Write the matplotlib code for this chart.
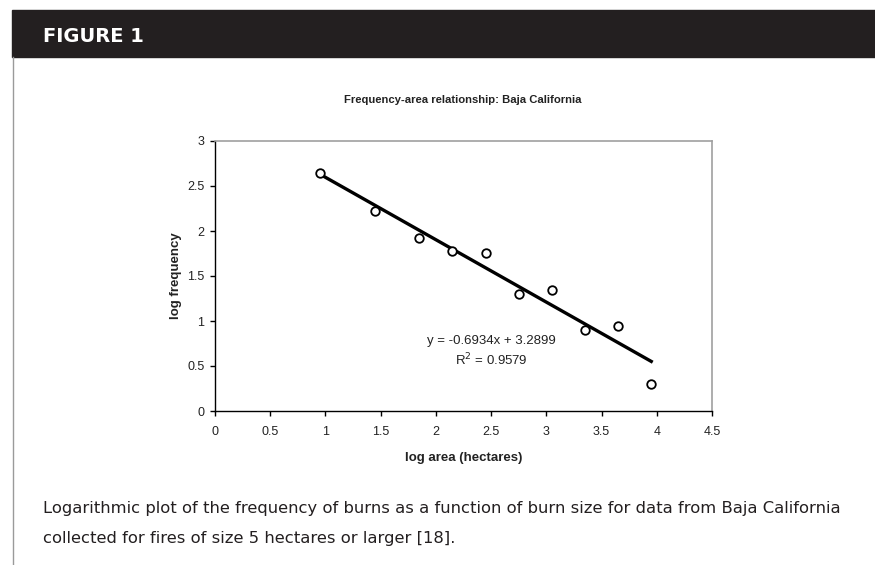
import numpy as np
import matplotlib
matplotlib.use("Agg")
import matplotlib.pyplot as plt
from matplotlib.patches import Rectangle
from matplotlib.lines import Line2D

# data
log_area = [0.95, 1.45, 1.85, 2.15, 2.45, 2.75, 3.05, 3.35, 3.65, 3.95]
log_freq = [2.64, 2.22, 1.92, 1.78, 1.76, 1.30, 1.34, 0.90, 0.95, 0.30]
slope, intercept = -0.6934, 3.2899
xticks = [0, 0.5, 1, 1.5, 2, 2.5, 3, 3.5, 4, 4.5]
yticks = [0, 0.5, 1, 1.5, 2, 2.5, 3]

W, H = 875, 565
arial = ["Liberation Sans", "DejaVu Sans"]

fig = plt.figure(figsize=(W/100, H/100), dpi=100)

def fx(px):
    return px / W

def fy(py):
    return 1 - py / H

# header bar and left rule
fig.add_artist(Rectangle((fx(12), fy(57)), 1, 47/H, transform=fig.transFigure,
                         color="#231f20", zorder=0))
fig.add_artist(Line2D([fx(12.5), fx(12.5)], [0, fy(57)], transform=fig.transFigure,
                      color="#9a9a9a", lw=1))
fig.text(fx(43), fy(42), "FIGURE 1", color="white", fontsize=14, fontweight="bold",
         family="DejaVu Sans", va="baseline", ha="left")

ax = fig.add_axes([fx(215), fy(411), 497/W, 270/H])
ax.scatter(log_area, log_freq, s=38, facecolors="white", edgecolors="black", linewidths=1.3, zorder=3)
xfit = np.array([log_area[0], log_area[-1]])
ax.plot(xfit, slope*xfit + intercept, color="black", lw=2.4, zorder=2)

ax.set_xlim(0, 4.5)
ax.set_ylim(0, 3)
ax.set_xticks(xticks)
ax.set_yticks(yticks)
ax.set_xticklabels([f"{t:g}" for t in xticks], family=arial, fontsize=9, color="#222222")
ax.set_yticklabels([f"{t:g}" for t in yticks], family=arial, fontsize=9, color="#222222")
ax.tick_params(direction="out", length=3.6, width=1, color="black")
ax.tick_params(axis="x", pad=7)
ax.tick_params(axis="y", pad=4)
for s in ["top", "right"]:
    ax.spines[s].set_color("#a0a0a0")
    ax.spines[s].set_linewidth(1.2)
for s in ["left", "bottom"]:
    ax.spines[s].set_color("black")
    ax.spines[s].set_linewidth(1)

ax.set_xlabel("log area (hectares)", family=arial, fontsize=9.5, fontweight="bold",
              color="#222222", labelpad=10)
ax.set_ylabel("log frequency", family=arial, fontsize=9.5, fontweight="bold",
              color="#222222", labelpad=4)
ax.text(2.5, 0.78, "y = -0.6934x + 3.2899", family=arial, fontsize=9.5, ha="center", va="center",
        color="#222222")
ax.text(2.5, 0.57, "R$^2$ = 0.9579", family=arial, fontsize=9.5, ha="center", va="center",
        color="#222222")

fig.text(fx(463), fy(100), "Frequency-area relationship: Baja California", family=arial,
         fontsize=8.1, fontweight="bold", ha="center", va="center", color="#222222")

fig.text(fx(43), fy(508), "Logarithmic plot of the frequency of burns as a function of burn size for data from Baja California",
         family="DejaVu Sans", fontsize=11.8, va="center", ha="left", color="#231f20")
fig.text(fx(43), fy(538), "collected for fires of size 5 hectares or larger [18].",
         family="DejaVu Sans", fontsize=11.8, va="center", ha="left", color="#231f20")

fig.savefig("out.png", dpi=100)
